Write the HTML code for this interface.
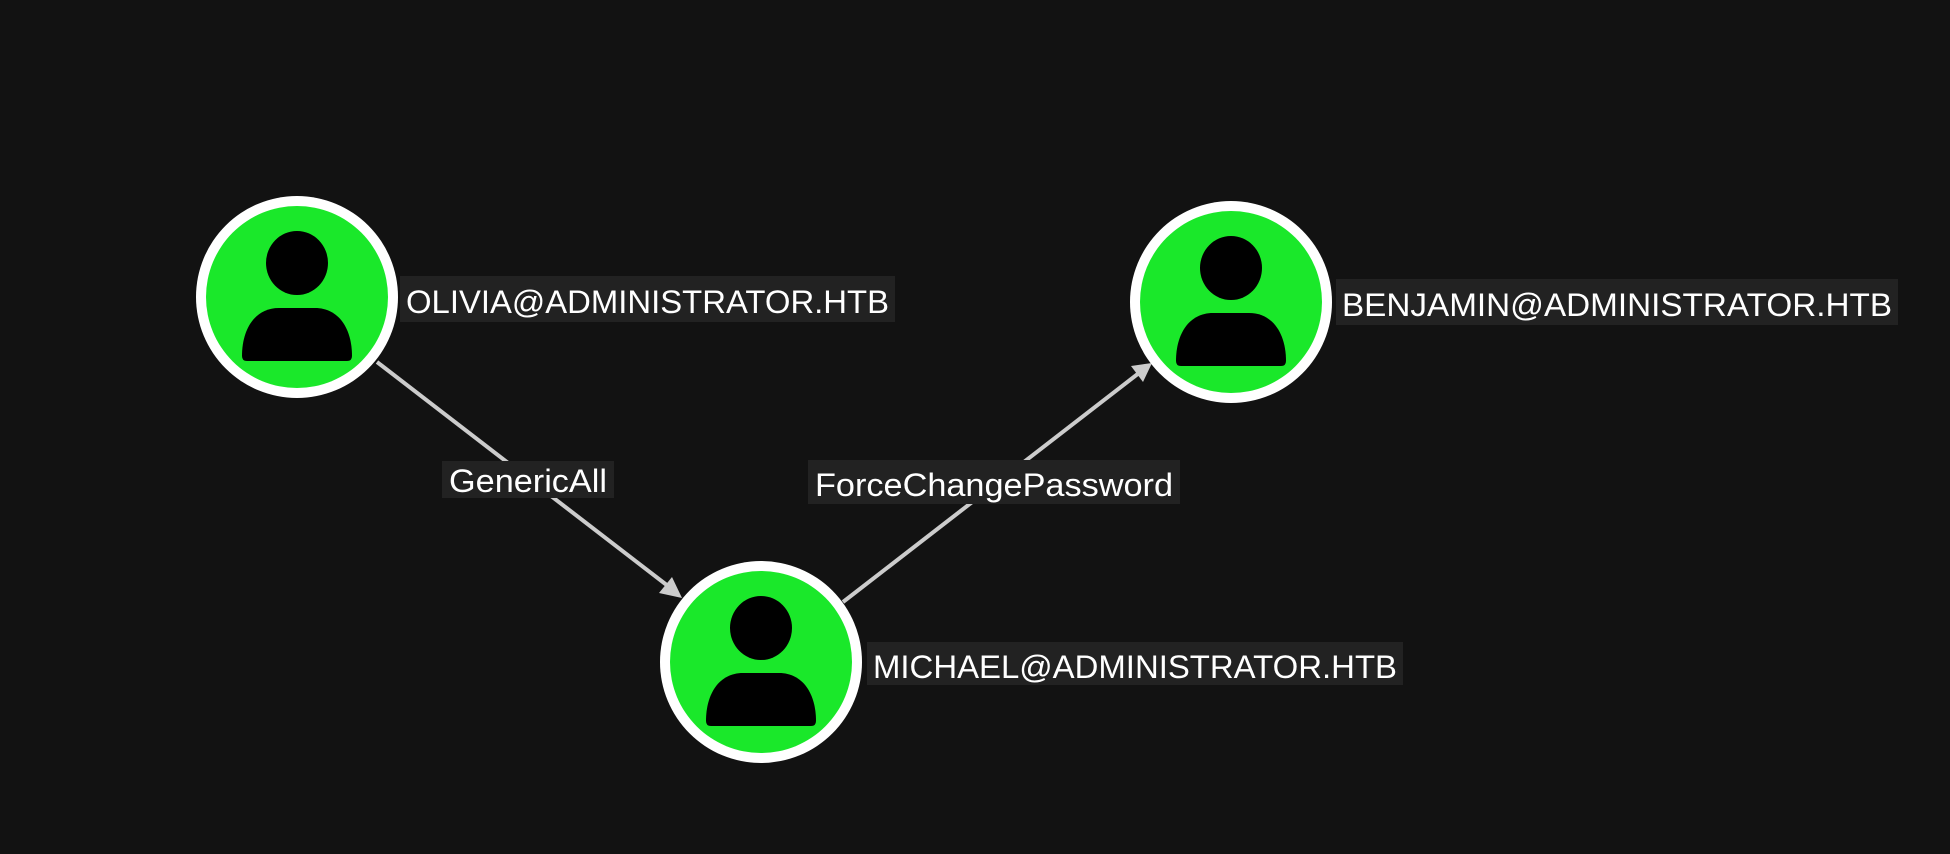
<!DOCTYPE html>
<html><head><meta charset="utf-8"><style>
html,body{margin:0;padding:0;background:#121212;}
svg{display:block;}
text{font-family:"Liberation Sans",sans-serif;fill:#fff;}
</style></head><body>
<svg width="1950" height="854" viewBox="0 0 1950 854" xmlns="http://www.w3.org/2000/svg">
<rect width="1950" height="854" fill="#121212"/>
<defs>
<g id="user">
  <circle r="101" fill="#ffffff"/>
  <circle r="91" fill="#1ae82a"/>
  <ellipse cx="0" cy="-34" rx="31" ry="32" fill="#000"/>
  <path d="M-55,59 C-55,32 -42,11 -18,11 L18,11 C42,11 55,32 55,59 Q55,64 50,64 L-50,64 Q-55,64 -55,59 Z" fill="#000"/>
</g>
</defs>
<!-- edges -->
<line x1="377" y1="362" x2="668" y2="586" stroke="#cccccc" stroke-width="4"/>
<polygon points="682,598 659,593 672,577" fill="#cccccc"/>
<line x1="843" y1="602" x2="1139" y2="373" stroke="#cccccc" stroke-width="4"/>
<polygon points="1152,363 1131,366 1143,382" fill="#cccccc"/>
<!-- edge labels -->
<rect x="442" y="461" width="172" height="37" fill="#222222"/>
<text x="449" y="492" font-size="32" textLength="158" lengthAdjust="spacingAndGlyphs">GenericAll</text>
<rect x="808" y="460" width="372" height="44" fill="#222222"/>
<text x="815" y="496" font-size="32" textLength="358" lengthAdjust="spacingAndGlyphs">ForceChangePassword</text>
<!-- nodes -->
<use href="#user" x="297" y="297"/>
<use href="#user" x="1231" y="302"/>
<use href="#user" x="761" y="662"/>
<!-- node labels -->
<rect x="400" y="276" width="495" height="46" fill="#222222"/>
<text x="406" y="313" font-size="32" textLength="483" lengthAdjust="spacingAndGlyphs">OLIVIA@ADMINISTRATOR.HTB</text>
<rect x="1336" y="279" width="562" height="46" fill="#222222"/>
<text x="1342" y="316" font-size="32" textLength="550" lengthAdjust="spacingAndGlyphs">BENJAMIN@ADMINISTRATOR.HTB</text>
<rect x="867" y="642" width="536" height="43" fill="#222222"/>
<text x="873" y="678" font-size="32" textLength="524" lengthAdjust="spacingAndGlyphs">MICHAEL@ADMINISTRATOR.HTB</text>
</svg>
</body></html>
